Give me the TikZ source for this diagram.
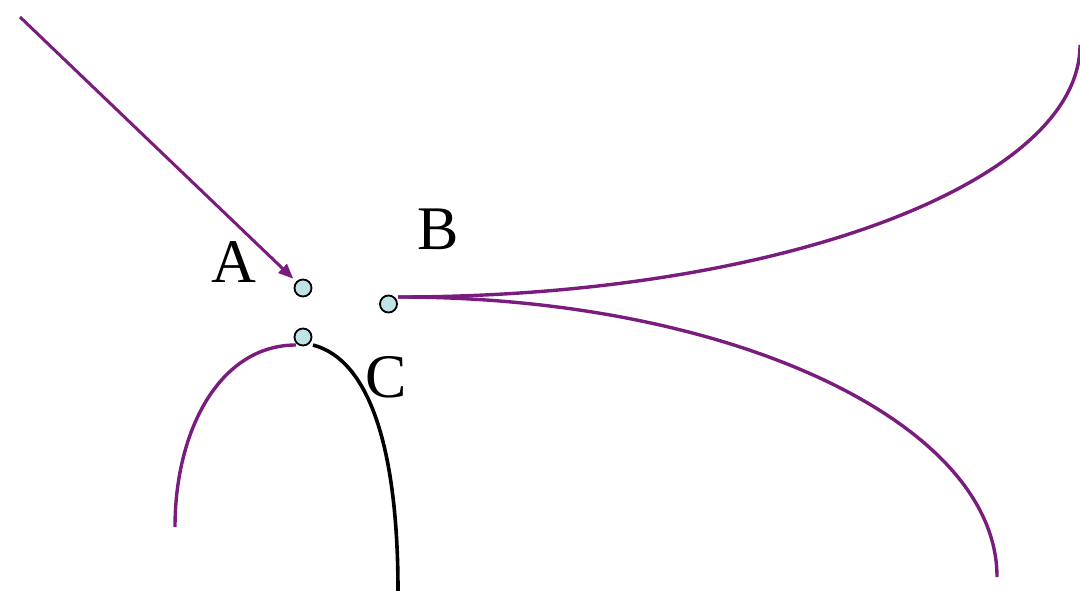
\documentclass[tikz,border=0pt]{standalone}
\usepackage{fontspec}
\setmainfont{Liberation Serif}
\usetikzlibrary{arrows.meta}
\definecolor{plum}{RGB}{122,28,126}
\definecolor{dotfill}{RGB}{192,228,230}
\tikzset{
  dot/.style={circle, draw=black, line width=1.8pt, fill=dotfill, minimum size=17pt, inner sep=0pt},
  lbl/.style={inner sep=0pt, font=\fontsize{62}{70}\selectfont},
  pline/.style={draw=plum, line width=3.4pt},
  bline/.style={draw=black, line width=3.6pt},
}
\begin{document}
\begin{tikzpicture}[x=1pt,y=-1pt]
\useasboundingbox (0,0) rectangle (1080,591);
% points
\node[dot] (A) at (303,288) {};
\node[dot] (B) at (388.5,304) {};
\node[dot] (C) at (303,337) {};
% labels
\node[lbl] (la) at (234,262) {A};
\node[lbl] (lb) at (438,229) {B};
\node[lbl] (lc) at (386,377) {C};
% coordinates
\coordinate (s) at (20,17);
\coordinate (Bs) at (398,297);
\coordinate (up) at (1080,45);
\coordinate (lo) at (997,577);
\coordinate (Cl) at (296,345);
\coordinate (Cr) at (313,345);
\coordinate (lend) at (175,527);
\coordinate (bend) at (398,591);
% incoming arrow
\draw[pline, line width=3pt, -{Triangle[length=15pt,width=12pt]}, shorten >=4pt] (s) -- (A);
% curves from B
\draw[pline] (Bs) .. controls (775,297) and (1080,184) .. (up);
\draw[pline] (Bs) .. controls (729,297) and (997,422) .. (lo);
% curves below C
\draw[pline] (Cl) .. controls (220,345) and (175,430) .. (lend);
\draw[bline] (Cr) .. controls (370,360) and (398,450) .. (bend);
\end{tikzpicture}
\end{document}
